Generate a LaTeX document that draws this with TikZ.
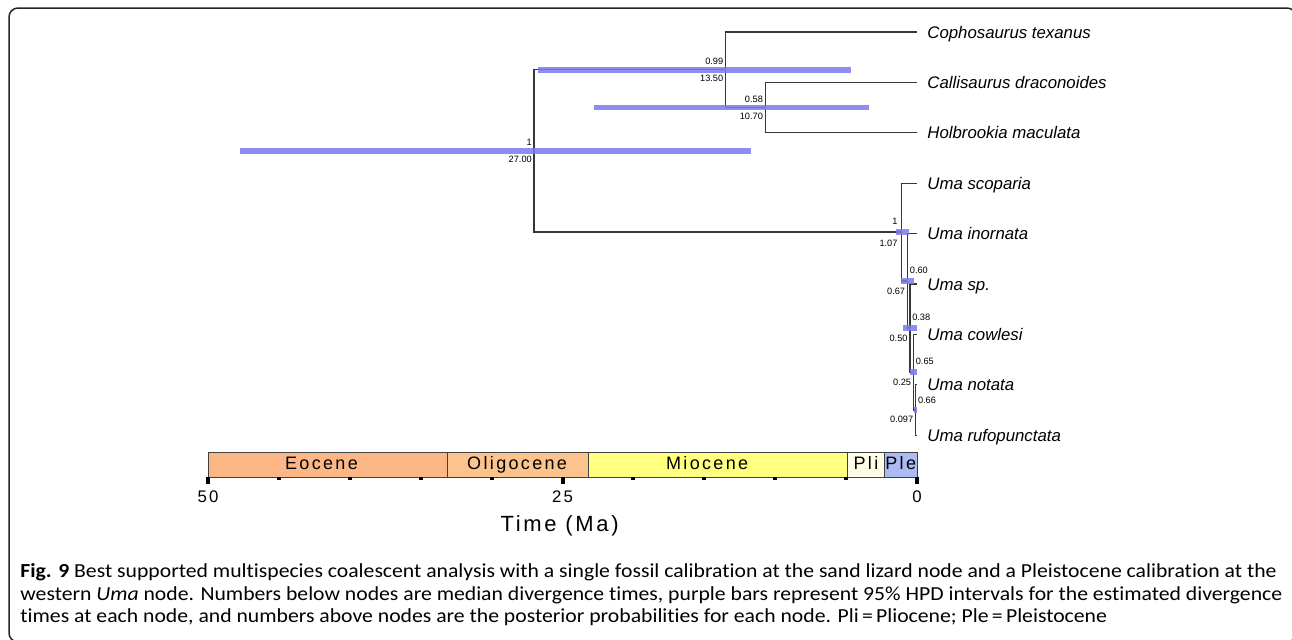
\documentclass[tikz,border=0pt]{standalone}
\usepackage{fontspec}
\usepackage{tikz}
\usetikzlibrary{calc, positioning}
\newfontfamily\treefont{Liberation Sans}
\newfontfamily\epochfont{Liberation Sans}[LetterSpace=13]
\newfontfamily\tickfont{Liberation Sans}[LetterSpace=12]
\newfontfamily\capfont{Carlito}[FakeStretch=1.09, Ligatures=NoCommon]
\definecolor{eoc}{RGB}{253,182,134}
\definecolor{oli}{RGB}{252,196,140}
\definecolor{mio}{RGB}{255,255,128}
\definecolor{pli}{RGB}{255,253,232}
\definecolor{ple}{RGB}{172,188,242}
\definecolor{hpdblue}{RGB}{122,122,236}
\tikzstyle{br}=[draw=black!78, line width=0.65pt]
\tikzstyle{hpd}=[draw=hpdblue, line width=2.8pt, opacity=0.85]
\tikzstyle{nd}=[inner sep=0pt, minimum size=0pt]
\tikzstyle{pp}=[inner xsep=0.8pt, inner ysep=2.2pt, font=\treefont\fontsize{4.6}{5}\selectfont]
\tikzstyle{tip}=[anchor=west, inner xsep=5pt, inner ysep=0pt, text height=6pt, text depth=0pt, font=\treefont\itshape\fontsize{8.4}{10}\selectfont]
\tikzstyle{epoch}=[draw=black!75, line width=0.5pt]
\tikzstyle{eplab}=[anchor=base, inner sep=0pt, font=\epochfont\fontsize{9}{10}\selectfont]
\tikzstyle{ticklab}=[anchor=base, inner sep=0pt, font=\tickfont\fontsize{8.4}{10}\selectfont]

\begin{document}
\begin{tikzpicture}[x=0.5pt, y=-0.5pt]
\useasboundingbox (0,0) rectangle (1292,639);
\draw[line width=0.75pt, draw=black!85, rounded corners=4.5pt] (9,8) rectangle (1296,642);

\begin{scope}[xshift=458.5pt, x=-7.09pt]
% tips
\foreach \n/\t [count=\i from 0] in {cte/Cophosaurus texanus, cdr/Callisaurus draconoides, hma/Holbrookia maculata, usc/Uma scoparia, uin/Uma inornata, usp/Uma sp., uco/Uma cowlesi, uno/Uma notata, uru/Uma rufopunctata}
  \node[tip] (\n) at (0, {32+50.4*\i}) {\t};

\node[nd, label={[pp]above left:1}, label={[pp]below left:27.00}] (root) at (27.0, 150.9) {};
\node[nd, label={[pp]above left:0.99}, label={[pp]below left:13.50}] (cph) at (13.5, 69.8) {};
\node[nd, label={[pp]above left:0.58}, label={[pp]below left:10.70}] (cal) at (10.7, 107.6) {};
\node[nd, label={[pp, inner ysep=3.4pt, xshift=-1pt]above left:1}, label={[pp, inner ysep=3.4pt, xshift=-1pt]below left:1.07}] (uma) at (1.07, 232) {};
\node[nd, label={[pp, inner ysep=3.2pt]above right:0.60}, label={[pp, inner ysep=3.2pt]below left:0.67}] (u1) at (0.67, 280.85) {};
\node[nd, label={[pp, inner ysep=3.2pt]above right:0.38}, label={[pp, inner ysep=3.2pt]below left:0.50}] (u2) at (0.50, 328.1) {};
\node[nd, label={[pp, inner ysep=3.2pt]above right:0.65}, label={[pp, inner ysep=3.2pt]below left:0.25}] (u3) at (0.25, 372.2) {};
\node[nd, label={[pp, inner ysep=2.6pt]above right:0.66}, label={[pp, inner ysep=2.6pt]below left:0.097}] (u4) at (0.097, 410) {};

\draw[br] (root) |- (cph);
\draw[br] (root) |- (uma);
\draw[br] (cph) |- (cte.west);
\draw[br] (cph) |- (cal);
\draw[br] (cal) |- (cdr.west);
\draw[br] (cal) |- (hma.west);
\draw[br] (uma) |- (usc.west);
\draw[br] (uma) |- (u1);
\draw[br] (u1) |- (uin.west);
\draw[br] (u1) |- (u2);
\draw[br] (u2) |- (usp.west);
\draw[br] (u2) |- (u3);
\draw[br] (u3) |- (uco.west);
\draw[br] (u3) |- (u4);
\draw[br] (u4) |- (uno.west);
\draw[br] (u4) |- (uru.west);

% 95% HPD
\foreach \lo/\hi/\n in {47.74/11.7/root, 26.73/4.68/cph, 22.8/3.36/cal, 1.50/0.585/uma, 1.11/0.19/u1, 0.97/0.02/u2, 0.49/-0.03/u3, 0.23/-0.03/u4}
  \draw[hpd] (\lo,0 |- \n) -- (\hi,0 |- \n);

% time scale
\foreach \a/\b/\c/\m/\nm/\lab in {50/33.1/eoc/42.0/eo/Eocene, 33.1/23.15/oli/28.2/ol/Oligocene, 23.15/4.9/mio/14.8/mi/Miocene, 4.9/2.3/pli/3.6/pl/Pli, 2.3/0/ple/1.15/pe/Ple}{
  \draw[epoch, fill=\c] (\a,452) rectangle (\b,477);
  \node[eplab] (\nm) at (\m, 469.5) {\lab};
}
\foreach \t in {5,10,...,45}
  \fill ([xshift=-1pt]\t,477) rectangle ++(2pt,-1.6pt);
\foreach \t in {0,25,50}
  \fill ([xshift=-1pt]\t,477) rectangle ++(2pt,-3.3pt);
\node[ticklab] (t50) at (50,502.3) {50};
\node[ticklab] (t25) at (25,502.3) {25};
\node[ticklab] (t0) at (0,502.3) {0};
\node[inner sep=0pt, font=\tickfont\fontsize{11}{12}\selectfont] (tma) at (25.2,526) {Time (Ma)};
\end{scope}

\node[anchor=north west, inner sep=0pt, align=left, font=\capfont\fontsize{9.95}{11.35}\selectfont] (capt) at (20,563)
{\textbf{Fig. 9} Best supported multispecies coalescent analysis with a single fossil calibration at the sand lizard node and a Pleistocene calibration at the\\
western \textit{Uma} node. Numbers below nodes are median divergence times, purple bars represent 95\% HPD intervals for the estimated divergence\\
times at each node, and numbers above nodes are the posterior probabilities for each node. Pli\,=\,Pliocene; Ple\,=\,Pleistocene};
\end{tikzpicture}
\end{document}
